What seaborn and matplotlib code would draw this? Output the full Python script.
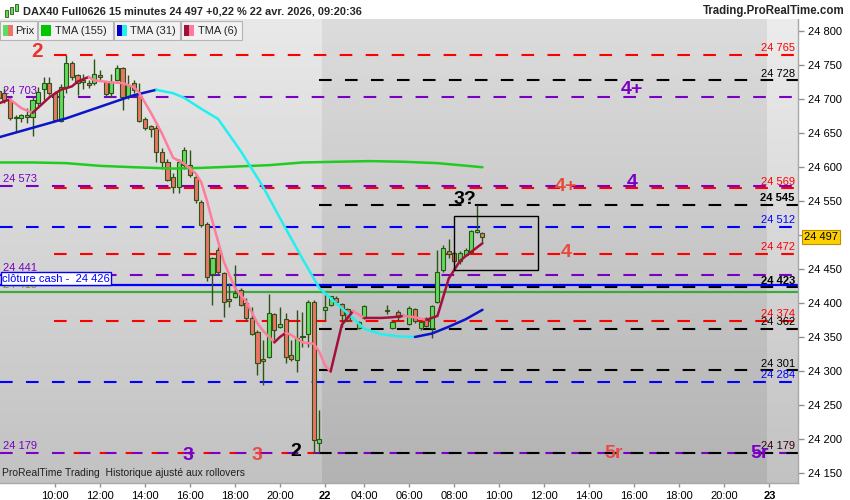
import numpy as np
import matplotlib
matplotlib.use("Agg")
import matplotlib.pyplot as plt
import matplotlib.patches as mpatches
import matplotlib.colors as mcolors
import matplotlib.transforms as mtrans
import seaborn as sns

sns.set_theme(style="white")
plt.rcParams["font.family"] = ["Liberation Sans", "DejaVu Sans"]
plt.rcParams["lines.scale_dashes"] = False

nan = np.nan

# 15 min bars: 21 avr 07:30 -> 21:45 (idx 0-57), 22 avr 02:15 -> 09:15 (idx 58-86)
opens = [24712, 24710, 24699, 24674, 24672, 24677, 24674, 24694, 24715, 24724,
         24709, 24668, 24718, 24753, 24736, 24728, 24724, 24724, 24736, 24725,
         24709, 24729, 24746, 24703, 24724, 24709, 24671, 24660, 24658, 24622,
         24607, 24586, 24571, 24603, 24603, 24586, 24549, 24516, 24443, 24478,
         24444, 24406, 24409, 24419, 24400, 24378, 24357, 24318, 24320, 24384,
         24365, 24376, 24323, 24316, 24350, 24354, 24401, 24194,
         24390, 24397, 24408, 24399, 24391, nan, 24363, 24378, nan, nan,
         nan, 24389, 24363, 24387, nan, 24369, 24391, 24363, 24378, 24363,
         24401, 24449, 24477, 24474, 24462, 24471, 24475, 24505, 24503]
highs = [24716, 24716, 24703, 24677, 24679, 24687, 24703, 24718, 24733, 24733,
         24712, 24722, 24765, 24757, 24737, 24737, 24728, 24759, 24743, 24726,
         24738, 24750, 24747, 24736, 24728, 24724, 24674, 24662, 24662, 24628,
         24612, 24592, 24612, 24630, 24625, 24588, 24551, 24519, 24468, 24483,
         24446, 24429, 24456, 24422, 24408, 24394, 24360, 24345, 24414, 24386,
         24394, 24386, 24345, 24389, 24387, 24404, 24404, 24242,
         24412, 24411, 24410, 24400, 24392, nan, 24373, 24397, nan, nan,
         nan, 24397, 24374, 24389, nan, 24395, 24393, 24375, 24380, 24397,
         24478, 24485, 24494, 24477, 24476, 24481, 24508, 24544, 24505]
lows = [24700, 24695, 24669, 24652, 24667, 24665, 24646, 24690, 24699, 24707,
        24668, 24667, 24710, 24729, 24707, 24715, 24716, 24721, 24728, 24705,
        24703, 24727, 24684, 24700, 24710, 24666, 24655, 24644, 24607, 24597,
        24579, 24562, 24562, 24598, 24585, 24548, 24512, 24432, 24397, 24443,
        24380, 24394, 24407, 24395, 24374, 24353, 24294, 24279, 24319, 24345,
        24363, 24311, 24314, 24298, 24335, 24335, 24179, 24179,
        24375, 24395, 24398, 24365, 24373, nan, 24361, 24377, nan, nan,
        nan, 24384, 24362, 24373, nan, 24367, 24370, 24360, 24364, 24348,
        24400, 24446, 24467, 24459, 24458, 24469, 24474, 24503, 24490]
closes = [24702, 24699, 24672, 24673, 24677, 24674, 24699, 24711, 24724, 24709,
          24669, 24718, 24753, 24733, 24724, 24726, 24721, 24737, 24733, 24708,
          24725, 24746, 24703, 24721, 24714, 24668, 24658, 24656, 24622, 24607,
          24581, 24571, 24607, 24625, 24589, 24552, 24515, 24438, 24466, 24446,
          24401, 24403, 24415, 24397, 24378, 24354, 24312, 24315, 24385, 24360,
          24369, 24320, 24318, 24348, 24352, 24401, 24198, 24199,
          24394, 24410, 24402, 24382, 24375, nan, 24372, 24396, nan, nan,
          nan, 24388, 24372, 24379, nan, 24393, 24373, 24372, 24366, 24396,
          24446, 24481, 24472, 24462, 24474, 24478, 24506, 24507, 24497]

# moving averages (bar index, value)
tma155_idx = [0, 6, 12, 18, 24, 31, 36, 42, 48, 54, 60, 66, 72, 78, 82, 86]
tma155_val = [24607, 24607, 24606, 24602, 24600, 24598, 24599, 24601, 24603,
              24607, 24608, 24609, 24608, 24606, 24603, 24600]
tma31_idx = [0, 6, 12, 18, 24, 28, 31, 33, 36, 39, 43, 47, 50, 54, 57, 59, 62,
             65, 68, 71, 74, 77, 80, 83, 86]
tma31_val = [24644, 24658, 24672, 24689, 24706, 24714, 24709, 24702, 24686,
             24671, 24624, 24571, 24525, 24465, 24422, 24407, 24385, 24362,
             24354, 24351, 24350, 24355, 24365, 24376, 24390]
tma6_idx = [0, 2, 4, 6, 9, 11, 13, 14, 16, 17, 20, 22, 24, 25, 27, 29, 30, 31,
            33, 35, 36, 37, 38, 40, 42, 44, 46, 47, 49, 50, 51, 52, 54, 56, 57,
            58, 59, 61, 63, 65, 68, 70, 72, 74, 76, 78, 80, 82, 83, 86]
tma6_val = [24694, 24700, 24687, 24680, 24703, 24714, 24719, 24726, 24733,
            24728, 24725, 24724, 24718, 24709, 24681, 24650, 24632, 24614,
            24605, 24591, 24578, 24551, 24520, 24461, 24422, 24402, 24370,
            24359, 24342, 24350, 24356, 24353, 24342, 24340, 24328, 24308,
            24299, 24368, 24388, 24378, 24378, 24379, 24381, 24379, 24375,
            24381, 24436, 24462, 24469, 24488]

# horizontal levels
red_levels = [24765, 24569, 24472, 24374]
black_levels = [24728, 24545, 24423, 24362, 24301, 24179]
purple_levels = [24703, 24573, 24441, 24179]
blue_levels = [24512, 24284]
cash_close = 24426
green_level = 24416
last_price = 24497

x_ticks = ["10:00", "12:00", "14:00", "16:00", "18:00", "20:00", "22",
           "04:00", "06:00", "08:00", "10:00", "12:00", "14:00", "16:00",
           "18:00", "20:00", "23"]

RED = "#ff0000"
PURPLE = "#7a00c4"
BLUE = "#0000ff"
UP = "#5fdc5f"
DOWN = "#ea7468"
EDGE = "#2c5414"

W, H = 850, 500
fig = plt.figure(figsize=(8.5, 5), dpi=100)
fig.patch.set_facecolor("white")
ax = fig.add_axes([0, 17 / H, 798 / W, 464 / H])

x_lo, x_hi = 0.22, 142.1
y_lo, y_hi = 24134.9, 24818.3


def gradient(x0, x1, top, bottom):
    g = np.linspace(0, 1, 200)[:, None, None]
    c0 = np.array(mcolors.to_rgb(top))[None, None, :]
    c1 = np.array(mcolors.to_rgb(bottom))[None, None, :]
    img = c0 * (1 - g) + c1 * g
    ax.imshow(img, extent=[x0, x1, y_lo, y_hi], aspect="auto",
              origin="upper", zorder=0)


gradient(x_lo, 57.5, "#e9e9e9", "#c2c2c2")
gradient(57.5, 136.6, "#dcdcdc", "#b3b3b3")
gradient(136.6, x_hi, "#ececec", "#c2c2c2")

dash = (0, (9.1, 9.6))
for p in purple_levels:
    ax.hlines(p, x_lo, x_hi, colors=PURPLE, linewidth=1.5, linestyles=dash, zorder=2)
for p in blue_levels:
    ax.hlines(p, x_lo, x_hi, colors=BLUE, linewidth=1.5, linestyles=dash, zorder=2)
for p in red_levels:
    ax.hlines(p, 9.8, x_hi, colors=RED, linewidth=1.5, linestyles=dash, zorder=2)
ax.hlines(24179, 9.8, 56.9, colors=RED, linewidth=1.5,
          linestyles=(4.5, (4.5, 14.2)), zorder=2)
for p in black_levels:
    ax.hlines(p, 56.9, x_hi, colors="black", linewidth=1.5, linestyles=dash, zorder=2)
ax.axhline(cash_close, color=BLUE, linewidth=1.6, zorder=2.5)
ax.axhline(green_level, color="#3aaa3a", linewidth=1.6, zorder=2.5)

# candles
o = np.array(opens); h = np.array(highs); l = np.array(lows); c = np.array(closes)
idx = np.arange(len(o))
ok = ~np.isnan(o)
ax.vlines(idx[ok], l[ok], h[ok], colors=EDGE, linewidth=1.0, zorder=3)
body_lo = np.minimum(o, c)
body_h = np.maximum(np.abs(c - o), 1.2)
cols = np.where(c >= o, UP, DOWN)
ax.bar(idx[ok], body_h[ok], bottom=body_lo[ok], width=0.72,
       color=cols[ok], edgecolor=EDGE, linewidth=0.8, zorder=3.5)


def draw_tma(xs, vs, up_color, down_color):
    xs = np.asarray(xs); vs = np.asarray(vs)
    rising = np.diff(vs) >= 0
    start = 0
    for k in range(1, len(rising) + 1):
        if k == len(rising) or rising[k] != rising[start]:
            seg = slice(start, k + 1)
            sns.lineplot(x=xs[seg], y=vs[seg], ax=ax, linewidth=1.8, zorder=4,
                         color=up_color if rising[start] else down_color)
            start = k


sns.lineplot(x=tma155_idx, y=tma155_val, ax=ax, color="#1fcc1f",
             linewidth=1.8, zorder=4)
draw_tma(tma31_idx, tma31_val, "#0a14c8", "#22f0f0")
draw_tma(tma6_idx, tma6_val, "#a3103c", "#ff7c9c")

# user box
ax.add_patch(mpatches.Rectangle((81.0, 24449), 14.9, 79, fill=False,
                                edgecolor="black", linewidth=1.0, zorder=5))

# level labels
bt = mtrans.blended_transform_factory(ax.transAxes, ax.transData)
right_labels = [(24765, RED, "normal"), (24728, "black", "normal"),
                (24569, RED, "normal"), (24545, "black", "bold"),
                (24512, BLUE, "normal"), (24472, RED, "normal"),
                (24423, "black", "bold"), (24374, RED, "normal"),
                (24362, "black", "normal"), (24301, "black", "normal"),
                (24284, BLUE, "normal"), (24179, "#3a0010", "normal")]
for p, col, fw in right_labels:
    ax.text(0.996, p + 2.5, f"{p:,}".replace(",", " "), transform=bt,
            ha="right", va="bottom", fontsize=8, color=col, fontweight=fw, zorder=6)
left_labels = [(24703, PURPLE), (24573, PURPLE), (24441, PURPLE),
               (24416, "#6f9c22"), (24179, PURPLE)]
for p, col in left_labels:
    lab = 24415 if p == 24416 else p
    ax.text(0.004, p + 2.5, f"{lab:,}".replace(",", " "), transform=bt,
            ha="left", va="bottom", fontsize=8, color=col, zorder=6)
ax.text(0.003, cash_close + 2.5, "clôture cash -  24 426", transform=bt,
        ha="left", va="bottom", fontsize=8, color=BLUE, zorder=7,
        bbox=dict(boxstyle="square,pad=0.12", fc="white", ec=BLUE, lw=1))

# wave annotations
notes = [("2", 6.8, 24770, "#e8342c", 15), ("4+", 112.6, 24714, PURPLE, 14),
         ("3?", 82.9, 24552, "black", 14), ("4+", 100.8, 24572, "#e84a3a", 14),
         ("4", 112.6, 24577, PURPLE, 14), ("4", 100.8, 24474, "#e84a3a", 14),
         ("3", 33.6, 24176, PURPLE, 14), ("3", 45.9, 24176, "#e84a4a", 14),
         ("2", 52.8, 24181, "black", 14), ("5r", 109.4, 24179, "#e84a4a", 14),
         ("5r", 135.3, 24179, PURPLE, 14)]
for t, xx, yy, col, fs in notes:
    ax.text(xx, yy, t, ha="center", va="center", fontsize=fs, color=col,
            fontweight="bold", zorder=6)

ax.text(0.003, 24142, "ProRealTime Trading  Historique ajusté aux rollovers",
        transform=bt, ha="left", va="bottom", fontsize=7.5, color="#202020", zorder=6)

# axes
ax.set_xlim(x_lo, x_hi)
ax.set_ylim(y_lo, y_hi)
tick_pos = [10, 18, 26, 34, 42, 50, 58, 65, 73, 81, 89, 97, 105, 113, 121, 129, 137]
ax.set_xticks(tick_pos)
ax.set_xticklabels(x_ticks)
for lab in ax.get_xticklabels():
    if len(lab.get_text()) == 2:
        lab.set_fontweight("bold")
        lab.set_fontsize(10)
ax.yaxis.tick_right()
yt = list(range(24150, 24801, 50))
ax.set_yticks(yt)
# the 24 500 label sits under the last-price box
ax.set_yticklabels(["" if v == 24500 else f"{v:,}".replace(",", " ") for v in yt])
ax.tick_params(axis="y", right=True, left=False, direction="out", length=4,
               width=1, color="#909090", labelsize=8, pad=3, labelcolor="black")
ax.tick_params(axis="x", bottom=True, direction="out", length=3, width=1,
               color="#909090", labelsize=8, pad=3, labelcolor="black")
for side in ["left", "top"]:
    ax.spines[side].set_visible(False)
for side in ["right", "bottom"]:
    ax.spines[side].set_color("#a8a8a8")
    ax.spines[side].set_linewidth(1)
ax.set_xlabel("")
ax.set_ylabel("")

ax.text(1.0 + 6 / 798, last_price, "24 497", transform=bt, ha="left",
        va="center", fontsize=8, color="black", zorder=8, clip_on=False,
        bbox=dict(boxstyle="square,pad=0.15", fc="#ffd000", ec="#b89000", lw=0.8))


def fig_rect(x0, y0, x1, y1, **kw):
    fig.add_artist(mpatches.Rectangle((x0 / W, 1 - y1 / H), (x1 - x0) / W,
                                      (y1 - y0) / H, transform=fig.transFigure, **kw))


# title bar
fig_rect(0, 0, W, 19, facecolor="white", edgecolor="none", zorder=1)
fig.text(23 / W, 1 - 11 / H,
         "DAX40 Full0626 15 minutes 24 497 +0,22 % 22 avr. 2026, 09:20:36",
         fontsize=7.9, fontweight="bold", va="center", ha="left", zorder=3)
fig.text(845 / W, 1 - 11 / H, "Trading.ProRealTime.com", fontsize=8.3,
         fontweight="bold", va="center", ha="right", zorder=3)
for x0, y0, y1 in [(5, 10, 17), (10, 7, 14), (15, 4, 11)]:
    fig_rect(x0, y0, x0 + 3, y1, facecolor=UP, edgecolor=EDGE, lw=0.6, zorder=2)

# legend boxes
boxes = [(0, 37, "Prix", 15, [UP, DOWN]), (38, 113, "TMA (155)", 55, ["#00c800"]),
         (114, 180, "TMA (31)", 130, ["#0000c8", "#22f0f0"]),
         (181, 242, "TMA (6)", 198, ["#a3103c", "#ff7c9c"])]
for x0, x1, txt, tx, sw in boxes:
    fig_rect(x0, 21, x1, 40, facecolor="#f2f2f2", edgecolor="#b4b4b4", lw=0.8, zorder=2)
    step = 10 / len(sw)
    for k, col in enumerate(sw):
        fig_rect(x0 + 3 + k * step, 25, x0 + 3 + (k + 1) * step, 36,
                 facecolor=col, edgecolor="none", zorder=3)
    fig.text(tx / W, 1 - 30.5 / H, txt, fontsize=8, va="center", ha="left", zorder=4)

fig.savefig("out.png", dpi=100)
